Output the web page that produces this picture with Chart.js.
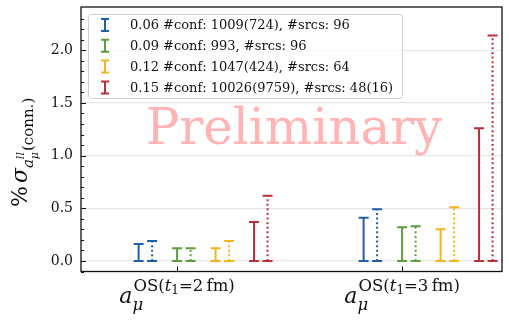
<!DOCTYPE html>
<html>
<head>
<meta charset="utf-8">
<script src="https://cdn.jsdelivr.net/npm/chart.js@4.4.1/dist/chart.umd.min.js"></script>
<style>
  html, body { margin: 0; padding: 0; background: #fff; }
  canvas { display: block; }
</style>
</head>
<body>
<canvas id="chart" width="509" height="325"></canvas>
<script>
// t1 window of the OS estimator (x categories)
const t1Values = ['2', '3'];
// lattice spacings and their legend texts
const spacings = ['0.06', '0.09', '0.12', '0.15'];
const legendLabels = [
    '0.06 #conf: 1009(724), #srcs: 96',
    '0.09 #conf: 993, #srcs: 96',
    '0.12 #conf: 1047(424), #srcs: 64',
    '0.15 #conf: 10026(9759), #srcs: 48(16)'
];
// % error, solid = first estimate, dotted = second estimate
const solid06 = [0.16, 0.41];
const dotted06 = [0.19, 0.49];
const solid09 = [0.12, 0.32];
const dotted09 = [0.12, 0.33];
const solid12 = [0.12, 0.30];
const dotted12 = [0.19, 0.51];
const solid15 = [0.37, 1.26];
const dotted15 = [0.62, 2.14];
const yTickLabels = ['0.0', '0.5', '1.0', '1.5', '2.0'];

const colors = ['#1f5fa9', '#5b9e3a', '#f2b61e', '#b72e3d'];
const solidSets = [solid06, solid09, solid12, solid15];
const dottedSets = [dotted06, dotted09, dotted12, dotted15];
const SERIF = '"DejaVu Serif", serif';

const datasets = [];
spacings.forEach((a, i) => {
    const shift = (i - 1) * 0.171;
    datasets.push({
        label: a + ' solid',
        data: solidSets[i].map((v, k) => ({ x: k + shift, y: v })),
        borderColor: colors[i], dotted: false
    });
    datasets.push({
        label: a + ' dotted',
        data: dottedSets[i].map((v, k) => ({ x: k + shift + 0.06, y: v })),
        borderColor: colors[i], dotted: true
    });
});

// vertical error bars from 0 to the value, with caps
const errorBars = {
    id: 'errorBars',
    afterDatasetsDraw(chart) {
        const ctx = chart.ctx;
        const y0 = chart.scales.y.getPixelForValue(0);
        chart.data.datasets.forEach((ds, i) => {
            chart.getDatasetMeta(i).data.forEach(pt => {
                ctx.save();
                ctx.strokeStyle = ds.borderColor;
                ctx.lineWidth = 2;
                ctx.setLineDash(ds.dotted ? [2, 2.6] : []);
                ctx.beginPath();
                ctx.moveTo(pt.x, y0);
                ctx.lineTo(pt.x, pt.y);
                ctx.stroke();
                ctx.setLineDash([]);
                ctx.beginPath();
                ctx.moveTo(pt.x - 5, y0); ctx.lineTo(pt.x + 5, y0);
                ctx.moveTo(pt.x - 5, pt.y); ctx.lineTo(pt.x + 5, pt.y);
                ctx.stroke();
                ctx.restore();
            });
        });
    }
};

// frame, inward ticks, watermark, legend and the math labels
const decorations = {
    id: 'decorations',
    beforeDatasetsDraw(chart) {
        const ctx = chart.ctx;
        ctx.save();
        ctx.fillStyle = 'rgba(255, 120, 120, 0.55)';
        ctx.font = '50px ' + SERIF;
        ctx.textAlign = 'center';
        ctx.textBaseline = 'alphabetic';
        ctx.fillText('Preliminary', 294, 144);
        ctx.restore();
    },
    afterDraw(chart) {
        const ctx = chart.ctx;
        const area = chart.chartArea;
        const ys = chart.scales.y, xs = chart.scales.x;

        // legend
        ctx.save();
        const lx = 88, ly = 14, lw = 314, lh = 84;
        ctx.fillStyle = 'rgba(255,255,255,0.8)';
        ctx.strokeStyle = '#d0d0d0';
        ctx.lineWidth = 1;
        ctx.beginPath();
        ctx.roundRect(lx + 0.5, ly + 0.5, lw, lh, 3);
        ctx.fill();
        ctx.stroke();
        ctx.font = '13px ' + SERIF;
        ctx.textBaseline = 'middle';
        legendLabels.forEach((txt, i) => {
            const cy = 25 + i * 20.8;
            ctx.strokeStyle = colors[i];
            ctx.lineWidth = 2;
            ctx.beginPath();
            ctx.moveTo(105, cy - 6); ctx.lineTo(105, cy + 6);
            ctx.moveTo(101, cy - 6); ctx.lineTo(109, cy - 6);
            ctx.moveTo(101, cy + 6); ctx.lineTo(109, cy + 6);
            ctx.stroke();
            ctx.fillStyle = '#111';
            ctx.fillText(txt, 130, cy + 1);
        });
        ctx.restore();

        ctx.save();
        // frame
        ctx.strokeStyle = '#111';
        ctx.lineWidth = 1.3;
        ctx.strokeRect(area.left, area.top, area.right - area.left, area.bottom - area.top);
        // y ticks, minor every 0.1
        ctx.lineWidth = 1;
        ys.ticks.forEach(t => {
            const v = t.value;
            if (Math.abs(v * 10 - Math.round(v * 10)) > 1e-6) return;
            const major = Math.abs(v * 2 - Math.round(v * 2)) < 1e-6;
            const y = Math.round(ys.getPixelForValue(v)) + 0.5;
            ctx.beginPath();
            ctx.moveTo(area.left, y);
            ctx.lineTo(area.left + (major ? 5 : 3), y);
            ctx.stroke();
        });
        // x ticks at the categories
        t1Values.forEach((t, k) => {
            const x = Math.round(xs.getPixelForValue(k)) + 0.5;
            ctx.beginPath();
            ctx.moveTo(x, area.bottom);
            ctx.lineTo(x, area.bottom - 5);
            ctx.stroke();
        });
        ctx.restore();

        // x category labels: a_mu^{OS(t_1 = N fm)}
        ctx.save();
        ctx.fillStyle = '#111';
        ctx.textBaseline = 'alphabetic';
        const bigI = 'italic 22px ' + SERIF;
        const supF = '16.5px ' + SERIF;
        const supI = 'italic 16.5px ' + SERIF;
        const subF = '12px ' + SERIF;
        t1Values.forEach((t, k) => {
            const sup = [
                { text: 'OS(', font: supF, dy: 0 },
                { text: 't', font: supI, dy: 0 },
                { text: '1', font: subF, dy: 3 },
                { text: '=' + t + '\u2009fm)', font: supF, dy: 0 }
            ];
            ctx.font = bigI;
            const wa = ctx.measureText('a').width;
            let wsup = 0;
            sup.forEach(p => { ctx.font = p.font; wsup += ctx.measureText(p.text).width; });
            const total = wa + 1 + wsup;
            const x0 = xs.getPixelForValue(k) - total / 2;
            ctx.font = bigI;
            ctx.fillText('a', x0, 303);
            ctx.font = supI;
            ctx.fillText('\u03bc', x0 + wa, 310);
            let x = x0 + wa + 1;
            sup.forEach(p => {
                ctx.font = p.font;
                ctx.fillText(p.text, x, 291 + p.dy);
                x += ctx.measureText(p.text).width;
            });
        });
        ctx.restore();

        // y title: % sigma_{a_mu^ll (conn.)}
        ctx.save();
        ctx.fillStyle = '#111';
        ctx.translate(27, 207);
        ctx.rotate(-Math.PI / 2);
        let x = 0;
        const put = (text, font, dy) => {
            ctx.font = font;
            ctx.fillText(text, x, dy);
            return ctx.measureText(text).width;
        };
        x += put('%', '22px ' + SERIF, 0) + 3;
        x += put('\u03c3', 'italic 22px ' + SERIF, 0);
        x += put('a', 'italic 15px ' + SERIF, 6);
        const wmu = put('\u03bc', 'italic 11px ' + SERIF, 11);
        const wll = put('ll', 'italic 11px ' + SERIF, -3);
        x += Math.max(wmu, wll) + 1;
        put('(conn.)', '15px ' + SERIF, 6);
        ctx.restore();
    }
};

new Chart(document.getElementById('chart').getContext('2d'), {
    type: 'scatter',
    data: { datasets: datasets },
    options: {
        responsive: false,
        animation: false,
        elements: { point: { radius: 0, hoverRadius: 0 } },
        layout: { padding: { top: 7, right: 7, left: 0, bottom: 0 } },
        plugins: { legend: { display: false }, tooltip: { enabled: false } },
        scales: {
            x: {
                type: 'linear',
                min: -0.427,
                max: 1.444,
                ticks: { display: false },
                grid: { display: false },
                border: { display: false },
                afterFit: s => { s.height = 53.5; }
            },
            y: {
                min: -0.1,
                max: 2.41,
                ticks: {
                    stepSize: 0.1,
                    autoSkip: false,
                    padding: 8,
                    color: '#111',
                    font: { family: SERIF, size: 14 },
                    callback: v => {
                        const k = Math.round(v * 2);
                        return Math.abs(v * 2 - k) < 1e-6 && k >= 0 ? yTickLabels[k] : '';
                    }
                },
                grid: {
                    drawTicks: false,
                    lineWidth: 1.2,
                    color: c => {
                        const v = c.tick ? c.tick.value : 1;
                        return Math.abs(v * 2 - Math.round(v * 2)) < 1e-6 && v >= 0 ? '#e6e6e6' : 'rgba(0,0,0,0)';
                    }
                },
                border: { display: false },
                afterFit: s => { s.width = 81; s.paddingTop = 0; s.paddingBottom = 0; }
            }
        }
    },
    plugins: [errorBars, decorations]
});
</script>
</body>
</html>
